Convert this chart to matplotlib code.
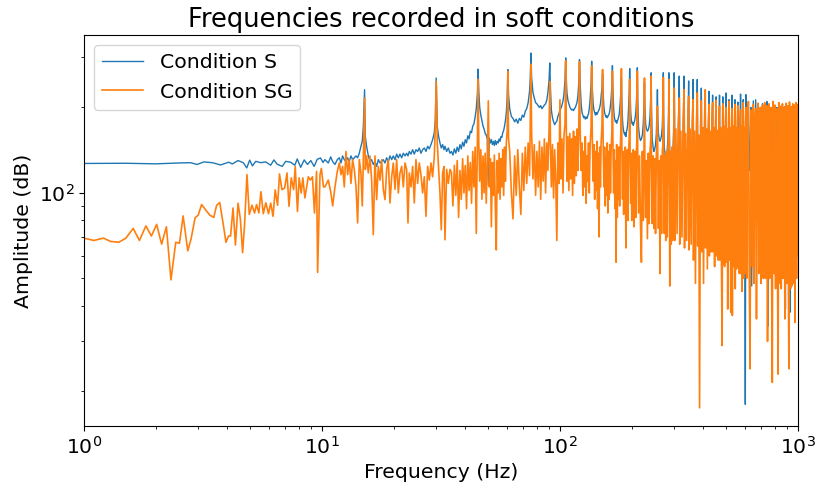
import matplotlib
matplotlib.use("Agg")
import matplotlib.pyplot as plt

# ---- Condition S, 1-10 Hz ----
f_s_low = [1.0, 1.5, 2.0, 2.5, 2.8, 2.99, 3.19, 3.46, 3.75, 4.06, 4.20, 4.44, 4.67, 4.83, 4.97,
           5.10, 5.27, 5.53, 5.80, 6.09, 6.28, 6.48, 6.81, 7.04, 7.38, 7.69, 7.87, 8.14, 8.42,
           8.69, 8.98, 9.27, 9.55, 9.86, 10.1]
s_low = [127, 127.2, 126.6, 127.5, 127.8, 126, 128.6, 127.8, 125.5, 128.3, 126.5, 130, 127.8, 122.5,
         130.5, 124.5, 129.2, 127.8, 128.6, 125.2, 130.7, 126.3, 124, 129.2, 128.3, 125.2, 131.7,
         123.1, 130.7, 126, 130, 124, 131.3, 132.8, 128]

# ---- Condition SG, 1-10 Hz ----
f_sg_low = [1.0, 1.10, 1.21, 1.29, 1.40, 1.50, 1.61, 1.71, 1.82, 1.92, 2.02, 2.12, 2.22, 2.32, 2.43,
            2.52, 2.61, 2.73, 2.82, 2.93, 3.02, 3.12, 3.25, 3.38, 3.51, 3.61, 3.72, 3.85, 3.95,
            4.05, 4.13, 4.23, 4.33, 4.44, 4.54, 4.64, 4.73, 4.84, 4.95, 5.08, 5.21, 5.31, 5.43,
            5.54, 5.67, 5.81, 5.96, 6.09, 6.23, 6.36, 6.51, 6.63, 6.79, 6.97, 7.13, 7.27, 7.43,
            7.60, 7.72, 7.89, 8.02, 8.18, 8.31, 8.48, 8.62, 8.76, 8.94, 9.12, 9.30, 9.49, 9.59,
            9.81, 9.94, 10.15]
sg_low = [69.3, 68, 69.3, 67.5, 67, 69.3, 75, 68, 76.5, 70.5, 77.5, 66, 76, 49.4, 67,
          66.5, 83, 62.5, 69, 81.7, 83.5, 91, 87, 83.5, 82, 90.5, 92.5, 77.3, 67,
          70.5, 70.5, 88.5, 65.5, 92, 81, 61.6, 77.3, 116, 84, 90.5, 85, 91, 85,
          101, 84.5, 92.3, 84.5, 92, 82.7, 102.5, 90.5, 116.6, 102.7, 104, 117.6, 89.7, 113,
          102.7, 124, 86, 113, 100, 113, 96, 105, 114, 111, 114, 85, 119, 52.5,
          116, 122, 105]

# ---- both conditions, 10-35 Hz ----
f_mid1 = [10.29, 10.63, 10.88, 11.09, 11.34, 11.60, 11.83, 12.02, 12.21, 12.41,
          12.61, 12.82, 13.02, 13.24, 13.45, 13.67, 13.90, 14.12, 14.35, 14.58,
          14.77, 14.92, 15.1, 15.21, 15.40, 15.66, 15.91, 16.17, 16.43, 16.70,
          16.97, 17.25, 17.53, 17.81, 18.10, 18.40, 18.70, 19.00, 19.31, 19.63,
          19.94, 20.27, 20.60, 20.93, 21.27, 21.62, 21.97, 22.33, 22.69, 22.98,
          23.28, 23.66, 24.04, 24.43, 24.83, 25.23, 25.64, 26.06, 26.48, 26.92,
          27.35, 27.80, 28.25, 28.71, 29.17, 29.65, 29.94, 30.2, 30.52, 30.92,
          31.32, 31.72, 32.14, 32.56, 32.87, 33.41, 33.95, 34.50]
s_mid1 = [131, 127.5, 134, 129, 126, 131, 133, 127.5, 135, 131,
          129, 133, 129, 135, 131, 133, 135, 133, 138, 146,
          152, 171, 231, 158, 146, 135, 129, 131, 126, 129,
          124, 131, 127.5, 129, 131, 127.5, 133, 129, 135, 131,
          135, 131, 137, 133, 137, 133, 138, 135, 138, 135,
          140, 137, 142, 137, 142, 140, 144, 138, 142, 144,
          140, 146, 143, 148, 154, 163, 181, 254, 171, 158,
          150, 144, 148, 142, 146, 140, 144, 138]
sg_mid1 = [105, 111, 101, 90, 105, 119, 127.5, 116, 124, 105,
           140, 116, 131, 108, 131, 121, 105, 78.4, 131, 117.6,
           90, 131, 216, 121, 135, 117.6, 135, 111, 71.3, 135,
           94.7, 124, 111, 131, 103, 94.7, 121, 131, 92.2, 114,
           127.5, 103, 131, 100, 117.6, 124, 105, 127.5, 121, 78.4,
           117.6, 105, 124, 92.2, 131, 108, 127.5, 116, 100, 114,
           82.7, 124, 111, 127.5, 114, 135, 171, 247, 150, 121,
           100, 74.2, 117.6, 124, 68.4, 121, 108, 121]

# ---- both conditions, 35-120 Hz ----
f_mid2 = [35.0, 35.5, 36.0, 36.5, 37.0, 37.5, 38.0, 38.5, 39.0, 39.5, 40.0, 40.5, 41.0, 41.5,
          42.0, 42.5, 43.0, 43.5, 44.0, 44.5, 45.0, 45.3, 45.6,
          46.0, 46.5, 47.0, 47.5, 48.0, 48.5, 49.0, 49.5, 50.0, 50.5, 51.0, 51.5, 52.0, 52.5,
          53.0, 53.5, 54.0, 54.5, 55.0, 55.5, 56.0, 56.5, 57.0, 57.5, 58.0, 58.5, 59.0, 59.5,
          60.0, 60.4, 60.8,
          61.5, 62.5, 63.5, 64.5, 65.5, 66.5, 67.5, 68.5, 69.5, 70.5, 71.5, 72.5, 73.5, 74.5,
          75.0, 75.5, 76.0,
          77, 78, 79, 80, 81, 82, 83, 84, 85, 86, 87, 88, 89, 90, 90.6, 91.2,
          92, 93, 94, 95, 96, 97, 98, 99, 100, 101, 102, 103, 104, 105, 105.7, 106.4,
          107, 108, 109, 110, 111, 112, 113, 114, 115, 116, 117, 118, 119, 120]
s_mid2 = [140, 136, 143, 138, 145, 140, 148, 143, 151, 146, 154, 150, 159, 155,
          165, 163, 172, 175, 185, 198, 225, 273, 228,
          200, 188, 180, 172, 168, 162, 160, 155, 107, 156, 150, 154, 148, 152,
          147, 153, 148, 152, 150, 155, 152, 158, 157, 163, 166, 172, 180, 192,
          215, 272, 222,
          198, 186, 183, 178, 182, 176, 183, 180, 188, 185, 194, 198, 208, 228,
          252, 311, 255,
          226, 216, 208, 206, 203, 200, 203, 198, 201, 204, 206, 212, 226, 250, 287, 235,
          196, 184, 178, 174, 177, 179, 186, 190, 196, 199, 204, 211, 224, 250, 299, 248,
          225, 212, 206, 201, 198, 196, 197, 195, 198, 200, 204, 209, 220, 245]
sg_mid2 = [118, 90, 125, 98, 130, 82, 120, 95, 132, 100, 125, 88, 135, 102,
           128, 92, 140, 105, 145, 72, 160, 251, 150,
           110, 142, 95, 135, 100, 138, 92, 130, 211, 105, 132, 76, 128, 98,
           136, 90, 63, 130, 100, 138, 95, 132, 105, 142, 98, 145, 110, 150,
           165, 268, 155,
           140, 100, 81, 135, 98, 142, 105, 84, 138, 102, 145, 108, 150, 115,
           170, 284, 165,
           112, 148, 98, 140, 105, 152, 95, 145, 110, 155, 100, 150, 120, 168, 247, 150,
           105, 148, 96, 142, 110, 68, 150, 108, 213, 112, 155, 100, 160, 175, 292, 160,
           110, 158, 102, 162, 112, 155, 98, 165, 108, 158, 115, 168, 120, 175]

# ---- both conditions, 120-1000 Hz (harmonics of ~15.1 Hz) ----
f_high = [
    120.8, 121.6, 122.8, 123.8, 124.8, 125.8, 126.8, 127.8, 128.8, 129.8, 130.8, 131.8, 132.8, 133.8, 135.1,
    135.9, 136.7, 137.9, 138.9, 139.9, 140.9, 141.9, 142.9, 143.9, 144.9, 145.9, 146.9, 147.9, 148.9, 150.2,
    151.0, 151.8, 153.0, 154.0, 155.0, 156.0, 157.0, 158.0, 159.0, 160.0, 161.0, 162.0, 163.0, 164.0, 165.3,
    166.1, 166.9, 168.1, 169.1, 170.1, 171.1, 172.1, 173.1, 174.1, 175.1, 176.1, 177.1, 178.1, 179.1, 180.4,
    181.2, 182.0, 183.2, 184.2, 185.2, 186.2, 187.2, 188.2, 189.2, 190.2, 191.2, 192.2, 193.2, 194.2, 195.5,
    196.3, 197.1, 198.3, 199.3, 200.3, 201.3, 202.3, 203.3, 204.3, 205.3, 206.3, 207.3, 208.3, 209.3, 210.6,
    211.4, 212.2, 213.9, 215.9, 217.9, 219.9, 221.9, 223.9, 225.7,
    226.5, 227.3, 229.0, 231.0, 233.0, 235.0, 237.0, 239.0, 240.8,
    241.6, 242.4, 244.1, 246.1, 248.1, 250.1, 252.1, 254.1, 255.9,
    256.7, 257.5, 259.2, 261.2, 263.2, 265.2, 267.2, 269.2, 271.0,
    271.8, 272.6, 274.3, 276.3, 278.3, 280.3, 282.3, 284.3, 286.1,
    286.9, 287.7, 289.4, 291.4, 293.4, 295.4, 297.4, 299.4, 301.2,
    302.0, 303.5, 307.0, 310.5, 314.0,
    317.1, 318.6, 322.1, 325.6, 329.1,
    332.2, 333.7, 337.2, 340.7, 344.2,
    347.3, 348.8, 352.3, 355.8, 359.3,
    362.4, 363.9, 367.4, 370.9, 374.4,
    377.5, 379.0, 382.5, 386.0, 389.5,
    392.6, 394.1, 397.6, 401.1, 404.6,
    407.7, 409.2, 412.7, 416.2, 419.7,
    422.8, 424.3, 427.8, 431.3, 434.8,
    437.9, 439.4, 442.9, 446.4, 449.9,
    453.0, 454.5, 458.0, 461.5, 465.0,
    468.1, 469.6, 473.1, 476.6, 480.1,
    483.2, 484.7, 488.2, 491.7, 495.2,
    498.3, 499.8, 503.3, 506.8, 510.3,
    513.4, 514.9, 518.4, 521.9, 525.4,
    528.5, 530.0, 533.5, 537.0, 540.5,
    543.6, 545.1, 548.6, 552.1, 555.6,
    558.7, 560.2, 563.7, 567.2, 570.7,
    573.8, 575.3, 578.8, 582.3, 585.8,
    588.9, 590.4, 593.9, 597.4, 600.9,
    604.0, 609.0, 614.0, 619.1, 624.1, 629.1, 634.2, 639.2, 644.2,
    649.3, 654.3, 659.3, 664.4, 669.4, 674.4, 679.5, 684.5, 689.5,
    694.6, 699.6, 704.6, 709.7, 714.7, 719.7, 724.8, 729.8, 734.8,
    739.9, 744.9, 749.9, 755.0, 760.0, 765.0, 770.1, 775.1, 780.1,
    785.2, 790.2, 795.2, 800.3, 805.3, 810.3, 815.4, 820.4, 825.4,
    830.5, 835.5, 840.5, 845.6, 850.6, 855.6, 860.7, 865.7, 870.7,
    875.8, 880.8, 885.8, 890.9, 895.9, 900.9, 906.0, 911.0, 916.0,
    921.1, 926.1, 931.1, 936.2, 941.2, 946.2, 951.3, 956.3, 961.3,
    966.4, 971.4, 976.4, 981.5, 986.5, 991.5, 996.6, 1000.0]
s_high = [
    295, 240, 205, 192, 188, 184, 186, 182, 185, 183, 187, 190, 198, 212, 240,
    291, 235, 205, 196, 192, 188, 192, 189, 191, 194, 196, 200, 206, 218, 236,
    262, 225, 200, 192, 188, 185, 187, 184, 186, 188, 190, 195, 203, 215, 240,
    281, 230, 198, 186, 181, 178, 180, 176, 179, 181, 184, 188, 195, 208, 230,
    255, 210, 180, 170, 165, 162, 160, 163, 158, 164, 167, 172, 182, 198, 228,
    274, 225, 192, 182, 178, 175, 177, 173, 176, 178, 181, 186, 193, 206, 232,
    276, 215, 170, 158, 153, 155, 160, 175, 210,
    245, 205, 175, 168, 165, 167, 172, 186, 220,
    265, 200, 155, 145, 140, 143, 148, 162, 200,
    231, 190, 162, 155, 152, 155, 160, 172, 210,
    265, 190, 145, 137, 133, 136, 142, 155, 195,
    265, 180, 138, 130, 126, 129, 135, 150, 190,
    265, 165, 128, 124, 150,
    258, 160, 125, 128, 148,
    258, 158, 122, 127, 146,
    248, 155, 124, 120, 145,
    251, 156, 122, 126, 144,
    251, 154, 120, 125, 143,
    234, 150, 123, 119, 142,
    228, 150, 121, 124, 140,
    228, 148, 118, 122, 140,
    221, 146, 120, 117, 138,
    218, 145, 118, 121, 138,
    221, 146, 116, 120, 136,
    218, 144, 119, 115, 137,
    225, 146, 117, 121, 136,
    213, 142, 115, 119, 135,
    221, 144, 118, 114, 134,
    213, 142, 114, 118, 134,
    209, 140, 117, 113, 133,
    223, 143, 112, 117, 132,
    213, 140, 116, 112, 18,
    222, 118, 136, 205, 120, 133, 200, 47, 134,
    211, 116, 135, 213, 119, 132, 202, 115, 134,
    198, 117, 131, 206, 114, 133, 197, 118, 130,
    210, 118, 34, 200, 115, 133, 198, 117, 131,
    205, 114, 130, 195, 116, 132, 200, 113, 130,
    197, 116, 128, 199, 112, 131, 196, 115, 129,
    201, 111, 39, 194, 114, 128, 196, 112, 130,
    198, 38, 128, 193, 113, 129, 195, 53, 127,
    192, 112, 128, 196, 114, 126, 194, 120]
sg_high = [
    290, 165, 120, 150, 98, 140, 105, 158, 92, 135, 110, 150, 100, 145, 170,
    280, 160, 110, 148, 95, 140, 102, 152, 88, 138, 70, 145, 105, 150, 175,
    272, 155, 105, 145, 90, 135, 98, 150, 85, 140, 95, 148, 100, 142, 165,
    268, 150, 100, 142, 88, 130, 57, 148, 82, 138, 95, 145, 90, 140, 168,
    274, 145, 95, 140, 84, 128, 92, 145, 64, 135, 88, 142, 80, 138, 160,
    251, 140, 92, 138, 80, 125, 88, 142, 76, 130, 85, 140, 82, 135, 158,
    268, 140, 85, 135, 78, 57, 140, 80, 150,
    254, 135, 82, 130, 69, 138, 78, 140, 155,
    258, 130, 78, 135, 75, 132, 72, 138, 150,
    202, 140, 75, 130, 52, 135, 72, 140, 150,
    255, 145, 72, 135, 68, 140, 70, 145, 160,
    251, 150, 47, 140, 66, 145, 68, 148, 165,
    234, 68, 168, 72, 172,
    216, 66, 165, 70, 175,
    231, 64, 162, 68, 170,
    219, 63, 168, 66, 172,
    213, 58, 165, 48, 176,
    225, 65, 160, 17.5, 172,
    211, 62, 170, 48, 175,
    231, 64, 168, 54, 172,
    205, 60, 165, 62, 178,
    208, 62, 170, 55, 175,
    212, 60, 166, 58, 176,
    202, 58, 170, 60, 29,
    206, 56, 172, 55, 178,
    200, 57, 168, 39, 175,
    210, 58, 170, 38, 176,
    198, 37, 172, 55, 178,
    205, 46, 170, 54, 175,
    203, 55, 168, 52, 180,
    196, 52, 172, 45, 178,
    208, 50, 170, 52, 175,
    200, 50, 176, 210, 52, 24, 196, 175, 55,
    205, 48, 178, 198, 36, 176, 207, 52, 180,
    200, 48, 178, 204, 50, 182, 208, 50, 178,
    203, 30, 180, 206, 50, 182, 200, 48, 21.5,
    210, 178, 52, 204, 46, 184, 198, 52, 23,
    208, 180, 48, 202, 46, 185, 206, 50, 182,
    200, 36, 184, 207, 48, 186, 203, 50, 24,
    209, 182, 46, 201, 47, 186, 206, 184, 48,
    204, 35, 185, 208, 50, 186, 205, 60]

freq_s = f_s_low + f_mid1 + f_mid2 + f_high
amp_s = s_low + s_mid1 + s_mid2 + s_high
freq_sg = f_sg_low + f_mid1 + f_mid2 + f_high
amp_sg = sg_low + sg_mid1 + sg_mid2 + sg_high

fig = plt.figure(figsize=(8.16, 4.87), dpi=100)
ax = fig.add_axes([0.1029, 0.1253, 0.8750, 0.8028])

ax.plot(freq_s, amp_s, color='#1f77b4', lw=1.0, label='Condition S')
ax.plot(freq_sg, amp_sg, color='#ff7f0e', lw=1.2, label='Condition SG')

ax.set_xscale('log')
ax.set_yscale('log')
ax.set_xlim(1, 1000)
ax.set_ylim(15.1, 360)

ax.set_title('Frequencies recorded in soft conditions', fontsize=18.5)
ax.set_xlabel('Frequency (Hz)', fontsize=14.7)
ax.set_ylabel('Amplitude (dB)', fontsize=14.7)
ax.tick_params(axis='both', which='major', labelsize=14.7)
ax.legend(loc='upper left', fontsize=14.7)

fig.savefig('out.png', dpi=100)
